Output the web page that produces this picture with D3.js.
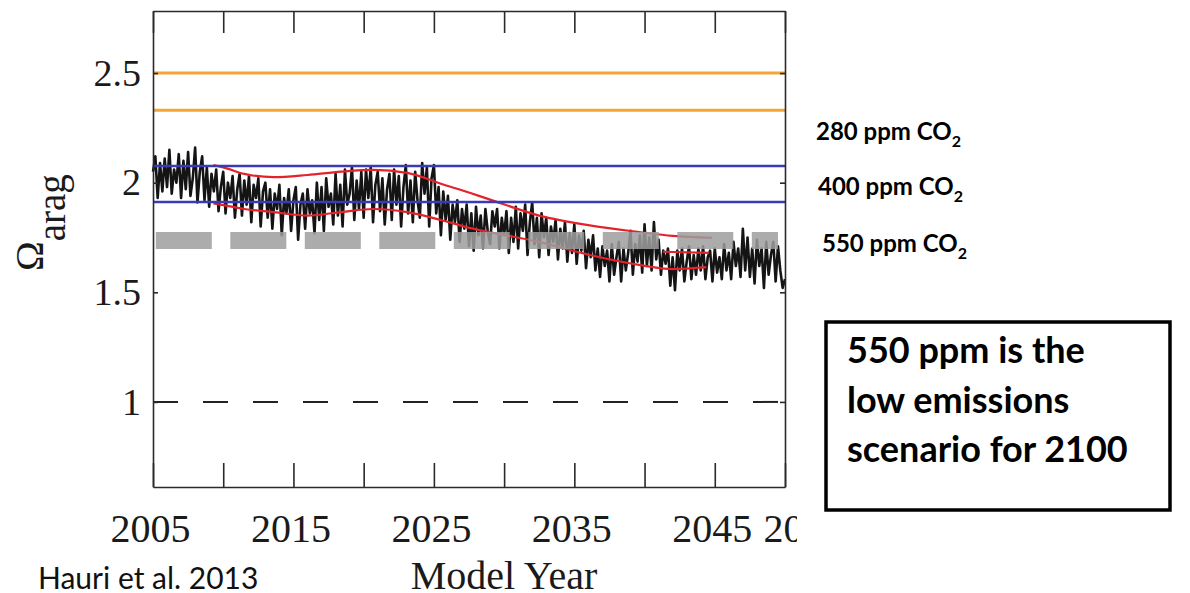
<!DOCTYPE html>
<html>
<head>
<meta charset="utf-8">
<script src="https://cdn.jsdelivr.net/npm/d3@7"></script>
<style>
    html, body { margin: 0; padding: 0; background: #fff; }
    svg { display: block; }
</style>
</head>
<body>
<div id="chart"></div>
<script>
// model Omega_arag, 6 values per year (2005 -> 2050)
const omegaStart = 2005;
const omegaStep = 1 / 6;
const omega = [
    2.05, 2.12, 1.93, 2.09, 1.96, 2.11,   // 2005
    1.98, 2.15, 1.95, 2.06, 2.00, 2.13,
    1.93, 2.10, 1.97, 2.14, 1.94, 2.02,
    2.16, 1.91, 2.05, 2.12, 1.92, 2.07,
    1.89, 2.04, 1.96, 2.06, 1.87, 1.98,
    2.05, 1.86, 2.00, 1.93, 2.03, 1.84,   // 2010
    1.97, 2.04, 1.85, 2.01, 1.90, 2.03,
    1.82, 1.99, 1.93, 2.02, 1.80, 1.96,
    2.00, 1.84, 1.97, 1.79, 1.95, 1.88,
    1.99, 1.76, 1.93, 1.86, 1.97, 1.78,
    1.92, 1.98, 1.74, 1.90, 1.95, 1.79,   // 2015
    1.97, 1.86, 1.92, 1.77, 2.00, 1.83,
    1.98, 1.78, 2.02, 1.89, 1.95, 1.81,
    2.04, 1.85, 1.99, 1.80, 2.06, 1.90,
    1.95, 2.07, 1.83, 2.01, 1.88, 2.05,
    1.84, 2.06, 1.93, 2.07, 1.82, 1.99,   // 2020
    2.05, 1.87, 2.02, 1.81, 1.97, 2.04,
    1.83, 2.06, 1.90, 2.03, 1.80, 1.98,
    2.08, 1.86, 2.01, 1.82, 2.05, 1.92,
    1.84, 2.09, 1.95, 2.07, 1.80, 2.02,
    2.08, 1.86, 1.98, 1.76, 1.96, 1.83,   // 2025
    1.94, 1.74, 1.90, 1.82, 1.92, 1.73,
    1.88, 1.79, 1.90, 1.71, 1.86, 1.69,
    1.89, 1.76, 1.85, 1.70, 1.88, 1.78,
    1.72, 1.87, 1.80, 1.88, 1.70, 1.84,
    1.76, 1.87, 1.68, 1.84, 1.73, 1.89,   // 2030
    1.70, 1.86, 1.78, 1.90, 1.67, 1.82,
    1.91, 1.72, 1.84, 1.66, 1.86, 1.75,
    1.84, 1.67, 1.80, 1.73, 1.83, 1.65,
    1.79, 1.70, 1.82, 1.64, 1.77, 1.68,
    1.81, 1.63, 1.76, 1.69, 1.78, 1.61,   // 2035
    1.74, 1.66, 1.76, 1.60, 1.70, 1.57,
    1.71, 1.62, 1.69, 1.55, 1.72, 1.58,
    1.66, 1.73, 1.55, 1.70, 1.60, 1.68,
    1.78, 1.58, 1.72, 1.64, 1.76, 1.59,
    1.81, 1.62, 1.75, 1.60, 1.82, 1.65,   // 2040
    1.74, 1.58, 1.69, 1.63, 1.70, 1.53,
    1.66, 1.51, 1.69, 1.60, 1.70, 1.55,
    1.64, 1.71, 1.56, 1.67, 1.58, 1.70,
    1.60, 1.71, 1.56, 1.66, 1.69, 1.55,
    1.70, 1.59, 1.66, 1.56, 1.72, 1.60,   // 2045
    1.68, 1.56, 1.73, 1.62, 1.70, 1.57,
    1.79, 1.60, 1.75, 1.57, 1.70, 1.54,
    1.74, 1.62, 1.70, 1.52, 1.73, 1.58,
    1.67, 1.73, 1.55, 1.71, 1.60, 1.52,
    1.56                                  // 2050
];

// red envelope curves
const upperYears = [2009.3, 2010, 2011.5, 2013.6, 2016, 2018.4, 2020.7, 2023.1, 2025.5, 2027.6, 2028.9, 2032.5, 2036.1, 2039.6, 2042, 2044.8];
const upperVals  = [2.08, 2.07, 2.04, 2.025, 2.035, 2.05, 2.058, 2.045, 1.995, 1.953, 1.925, 1.85, 1.805, 1.775, 1.757, 1.748];
const lowerYears = [2009.3, 2010, 2011.5, 2013.6, 2016, 2018.4, 2020.7, 2023.1, 2025.5, 2027.6, 2028.9, 2032.5, 2036.1, 2039.6, 2042, 2044.4];
const lowerVals  = [1.905, 1.898, 1.88, 1.866, 1.85, 1.866, 1.88, 1.866, 1.83, 1.793, 1.775, 1.73, 1.67, 1.625, 1.606, 1.615];
const meanYears  = [2041.3, 2044.6];
const meanVals   = [1.685, 1.68];

// reference levels
const orangeLevels = [2.5, 2.33];
const blueLevels = [2.076, 1.912];
const greyLevels = [1.736];
const saturationLevel = [1];

const xTicks = [2005, 2010, 2015, 2020, 2025, 2030, 2035, 2040, 2045, 2050];
const xLabels = [2005, 2015, 2025, 2035, 2045, 2050];
const yTicks = [1, 1.5, 2, 2.5];

const co2Labels = ['280 ppm CO', '400 ppm CO', '550 ppm CO'];
const noteLines = ['550 ppm is the', 'low emissions', 'scenario for 2100'];
const source = 'Hauri et al. 2013';

const width = 1190;
const height = 593;
const frame = { left: 153, right: 785, top: 11, bottom: 487 };
const serif = '"Liberation Serif", "Times New Roman", serif';
const sans = 'Lato, "Open Sans", sans-serif';

const svg = d3.select('#chart')
    .append('svg')
    .attr('width', width)
    .attr('height', height)
    .attr('viewBox', [0, 0, width, height]);

svg.append('rect').attr('width', width).attr('height', height).attr('fill', '#fff');

// the figure was cropped on the right, just past the frame
svg.append('defs').append('clipPath').attr('id', 'crop')
    .append('rect').attr('x', 0).attr('y', 0).attr('width', 797).attr('height', height);

const x = d3.scaleLinear().domain([2005, 2050]).range([frame.left, frame.right]);
const y = d3.scaleLinear().domain([0.612, 2.783]).range([frame.bottom, frame.top]);

const plot = svg.append('g').attr('clip-path', 'url(#crop)');

const hline = (g, levels, color, w, extent = [2005, 2050]) => {
    return g.selectAll(null)
        .data(levels)
        .join('line')
        .attr('x1', x(extent[0]))
        .attr('x2', x(extent[1]))
        .attr('y1', (d) => y(d))
        .attr('y2', (d) => y(d))
        .attr('stroke', color)
        .attr('stroke-width', w);
};

hline(plot, orangeLevels, '#f4a634', 3);

// Omega = 1 dashed
hline(plot, saturationLevel, '#222', 2).attr('stroke-dasharray', '25,25');

const omegaPts = omega.map((v, i) => ({ yr: omegaStart + i * omegaStep, v }));
const line = d3.line().x((d) => x(d.yr)).y((d) => y(d.v));

plot.append('path')
    .datum(omegaPts)
    .attr('d', line)
    .attr('fill', 'none')
    .attr('stroke', '#141414')
    .attr('stroke-width', 2.6)
    .attr('stroke-linejoin', 'round');

const redLine = d3.line().x((d) => x(d[0])).y((d) => y(d[1])).curve(d3.curveMonotoneX);
[[upperYears, upperVals], [lowerYears, lowerVals], [meanYears, meanVals]].forEach(([yrs, vals]) => {
    plot.append('path')
        .datum(d3.zip(yrs, vals))
        .attr('d', redLine)
        .attr('fill', 'none')
        .attr('stroke', '#e3232c')
        .attr('stroke-width', 2.2);
});

hline(plot, blueLevels, '#3a3ab4', 2.5);

// grey 550 ppm level, thick dashes
const grey = plot.append('g').attr('opacity', 0.85);
hline(grey, greyLevels, '#9e9e9e', 17, [2005.2, 2049.5]).attr('stroke-dasharray', '56,18.5');

// axes: ticks point inward on all four sides
const styleAxis = (g) => {
    g.selectAll('path, line').attr('stroke', '#2a2a2a').attr('stroke-width', 1.6);
    g.attr('font-family', serif).attr('font-size', 40);
    g.selectAll('text').attr('fill', '#1a1a1a');
};

const bottomAxis = plot.append('g')
    .attr('transform', `translate(0,${frame.bottom})`)
    .call(d3.axisBottom(x).tickValues(xTicks).tickSizeInner(-24).tickSizeOuter(0).tickPadding(27)
        .tickFormat((d) => (xLabels.includes(d) ? d : '')))
    .call(styleAxis);
// the last label sits a little right of its tick and runs off the crop
bottomAxis.selectAll('text').filter((d) => d === 2050).attr('dx', 18);
bottomAxis.selectAll('text').attr('x', (d) => (d === 2050 ? 0 : -3));

plot.append('g')
    .attr('transform', `translate(0,${frame.top})`)
    .call(d3.axisTop(x).tickValues(xTicks).tickSizeInner(-22).tickSizeOuter(0).tickFormat(''))
    .call(styleAxis);

plot.append('g')
    .attr('transform', `translate(${frame.left},0)`)
    .call(d3.axisLeft(y).tickValues(yTicks).tickSizeInner(-5).tickSizeOuter(0).tickPadding(12)
        .tickFormat(d3.format('~g')))
    .call(styleAxis)
    .attr('font-size', 38);

plot.append('g')
    .attr('transform', `translate(${frame.right},0)`)
    .call(d3.axisRight(y).tickValues(yTicks).tickSizeInner(-5).tickSizeOuter(0).tickFormat(''))
    .call(styleAxis);

// axis titles
svg.append('text')
    .attr('x', (x(2025) + x(2035)) / 2)
    .attr('y', 589)
    .attr('text-anchor', 'middle')
    .attr('font-family', serif)
    .attr('font-size', 40)
    .attr('fill', '#1a1a1a')
    .text('Model Year');

const ylab = svg.append('text')
    .attr('transform', 'translate(43,271) rotate(-90)')
    .attr('font-family', serif)
    .attr('fill', '#1a1a1a');
ylab.append('tspan').attr('font-size', 40).text('Ω');
ylab.append('tspan').attr('font-size', 39).attr('dy', 22).text('arag');

// CO2 labels on the right
const notes = svg.append('g').attr('font-family', sans).attr('font-weight', 'bold').attr('fill', '#000');
const labelY = [140, 195, 252];
const labelX = [816, 818, 822];
co2Labels.forEach((lab, i) => {
    const t = notes.append('text').attr('x', labelX[i]).attr('y', labelY[i]).attr('font-size', 24);
    t.append('tspan').text(lab);
    t.append('tspan').attr('font-size', 16).attr('dy', 7).text('2');
});

// boxed note
notes.append('rect')
    .attr('x', 826).attr('y', 322)
    .attr('width', 344).attr('height', 188)
    .attr('fill', '#fff')
    .attr('stroke', '#000')
    .attr('stroke-width', 3.5);

notes.selectAll('.note')
    .data(noteLines)
    .join('text')
    .attr('class', 'note')
    .attr('x', 847)
    .attr('y', (d, i) => 363 + i * 49.5)
    .attr('font-size', 36)
    .text((d) => d);

svg.append('text')
    .attr('x', 38)
    .attr('y', 589)
    .attr('font-family', sans)
    .attr('font-size', 30)
    .attr('fill', '#111')
    .text(source);
</script>
</body>
</html>
